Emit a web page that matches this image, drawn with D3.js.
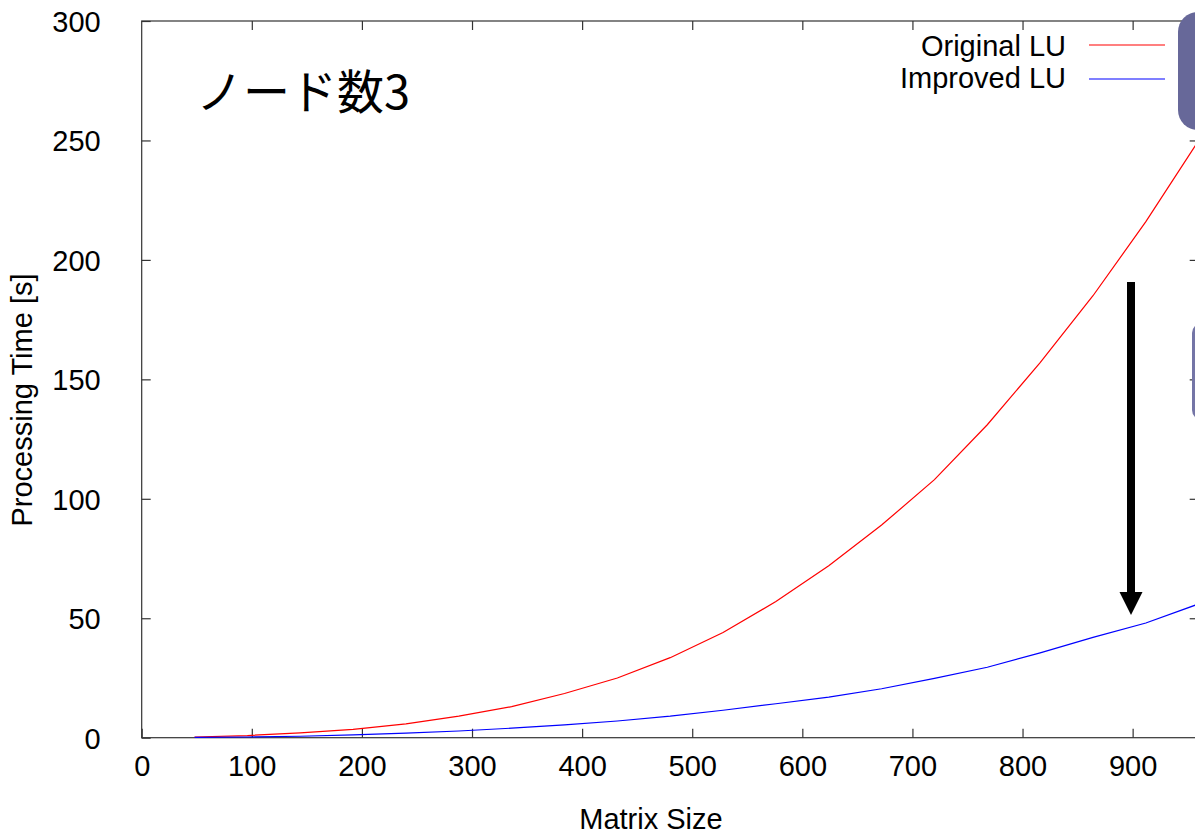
<!DOCTYPE html>
<html><head><meta charset="utf-8">
<script src="https://cdn.jsdelivr.net/npm/d3@7"></script>
<style>body{margin:0;background:#fff;overflow:hidden}text{font-family:"Liberation Sans",Arial,sans-serif}</style>
</head><body><svg id="c" width="1195" height="837"></svg>
<script>
const matrixSizes = [48,96,144,192,240,288,336,384,432,480,528,576,624,672,720,768,816,864,912,960];
const originalLU = [0.3,0.9,2,3.5,5.8,9,13,18.5,25,33.5,44,57,72,89,108,131,157,185,216,250];
const improvedLU = [0.1,0.3,0.6,1.2,1.9,2.8,4,5.4,7,9,11.5,14.2,17,20.5,24.8,29.5,35.5,42,48,56];
const xTicks = [0,100,200,300,400,500,600,700,800,900];
const yTicks = [0,50,100,150,200,250,300];
const seriesNames = ["Original LU","Improved LU"];
const seriesColors = ["#ff0000","#0000ff"];
const titleText = "ノード数3";

const svg = d3.select("#c");
const L = 141.7, R = 1198.7, T = 21, B = 737.7;
const x = d3.scaleLinear().domain([0,960]).range([L,R]);
const y = d3.scaleLinear().domain([0,300]).range([B,T]);
const axisColor = "#333";
const fs = 29;

// frame
svg.append("rect").attr("x",L).attr("y",T).attr("width",R-L).attr("height",B-T)
  .attr("fill","none").attr("stroke",axisColor).attr("stroke-width",1.2);

// axes via d3
const gx = svg.append("g").attr("transform",`translate(0,${B})`)
  .call(d3.axisBottom(x).tickValues(xTicks).tickSize(-9).tickPadding(18).tickFormat(d3.format("d")));
const gxt = svg.append("g").attr("transform",`translate(0,${T})`)
  .call(d3.axisTop(x).tickValues(xTicks.filter(d=>d>0)).tickSize(-9).tickFormat(""));
const gy = svg.append("g").attr("transform",`translate(${L},0)`)
  .call(d3.axisLeft(y).tickValues(yTicks).tickSize(-9).tickPadding(41).tickFormat(d3.format("d")));
const gyr = svg.append("g").attr("transform",`translate(${R},0)`)
  .call(d3.axisRight(y).tickValues(yTicks.filter(d=>d>0&&d<300)).tickSize(-9).tickFormat(""));
[gx,gxt,gy,gyr].forEach(g=>{
  g.select(".domain").remove();
  g.selectAll("line").attr("stroke",axisColor).attr("stroke-width",1.2);
  g.selectAll("text").attr("fill","#000").style("font-size",fs+"px").style("font-family","Liberation Sans, Arial, sans-serif");
});
gx.selectAll("text").attr("dy","0.71em");
gy.selectAll("text").attr("dy","0.36em");

// axis titles
svg.append("text").attr("x",651).attr("y",829).attr("text-anchor","middle")
  .style("font-size",fs+"px").text("Matrix Size");
svg.append("text").attr("transform","translate(32,400) rotate(-90)").attr("text-anchor","middle")
  .style("font-size",fs+"px").text("Processing Time [s]");

// lines
const line = d3.line().x((d,i)=>x(matrixSizes[i])).y(d=>y(d));
[originalLU, improvedLU].forEach((s,i)=>{
  svg.append("path").datum(s).attr("d",line).attr("fill","none")
    .attr("stroke",seriesColors[i]).attr("stroke-width",1.2);
});

// legend
seriesNames.forEach((n,i)=>{
  const ly = 46 + i*32;
  svg.append("text").attr("x",1066).attr("y",ly).attr("dy","0.36em").attr("text-anchor","end")
    .style("font-size",fs+"px").text(n);
  svg.append("line").attr("x1",1089).attr("x2",1165).attr("y1",i?79:45).attr("y2",i?79:45)
    .attr("stroke",seriesColors[i]).attr("stroke-width",1.2);
});

// big label
svg.append("text").attr("x",196).attr("y",109)
  .style("font-family","'Noto Sans CJK JP', sans-serif").style("font-size","47px").text(titleText);

// arrow
svg.append("rect").attr("x",1127).attr("y",282).attr("width",8).attr("height",312).attr("fill","#000");
svg.append("path").attr("d","M1119.5,592 L1142.5,592 L1131,615 Z").attr("fill","#000");

// callout boxes (cut off at right)
svg.append("rect").attr("x",1178).attr("y",12).attr("width",80).attr("height",118).attr("rx",20)
  .attr("fill","#676899");
svg.append("rect").attr("x",1192).attr("y",323).attr("width",80).attr("height",97).attr("rx",10)
  .attr("fill","#7475a6");
</script></body></html>
